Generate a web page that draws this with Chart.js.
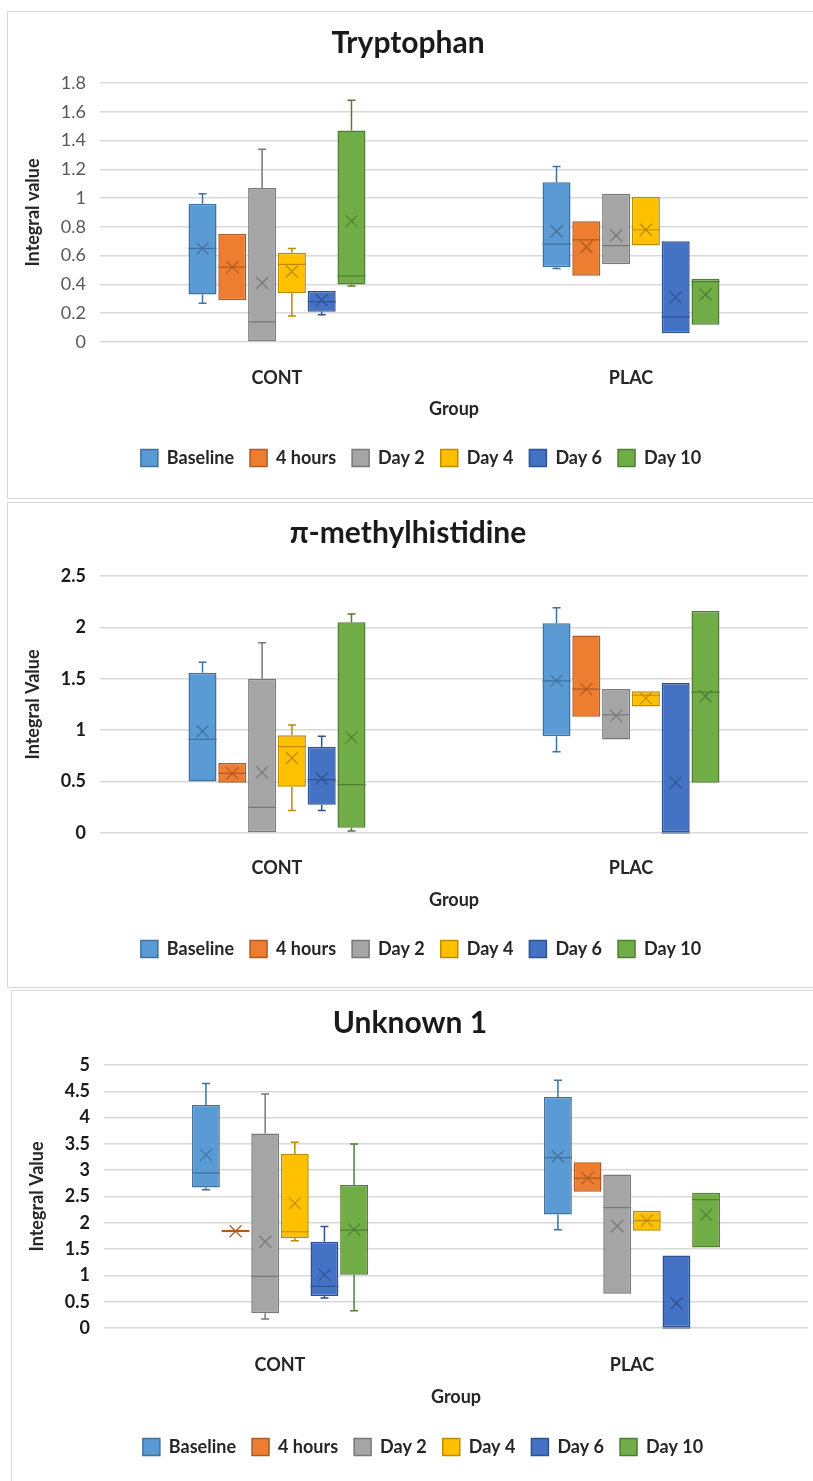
<!DOCTYPE html>
<html>
<head>
<meta charset="utf-8">
<title>Integral values by group</title>
<script src="https://cdn.jsdelivr.net/npm/chart.js@4.4.0/dist/chart.umd.min.js"></script>
<style>
  html, body { margin: 0; padding: 0; background: #fff; overflow: hidden; }
  .panel { position: absolute; border: 1px solid #d9d9d9; background: #fff; }
  .panel canvas { display: block; }
</style>
</head>
<body>
<div class="panel" style="left:7px;top:11px;width:820px;height:486px"><canvas id="trpChart" width="806" height="486"></canvas></div>
<div class="panel" style="left:7px;top:502px;width:820px;height:484px"><canvas id="mhChart" width="806" height="484"></canvas></div>
<div class="panel" style="left:11px;top:990px;width:820px;height:492px"><canvas id="unkChart" width="802" height="492"></canvas></div>
<script>
const groups = ['CONT', 'PLAC'];
const series = ['Baseline', '4 hours', 'Day 2', 'Day 4', 'Day 6', 'Day 10'];
const fills = ['#5B9BD5', '#ED7D31', '#A5A5A5', '#FFC000', '#4472C4', '#70AD47'];
const edges = ['#41719C', '#AE5A21', '#787878', '#BC8C00', '#2F528F', '#507E32'];

// one row per series, [CONT, PLAC]
const trpMin  = [[0.27, 0.51], [0.29, 0.46], [0, 0.54], [0.18, 0.67], [0.19, 0.06], [0.39, 0.12]];
const trpQ1   = [[0.33, 0.52], [0.29, 0.46], [0, 0.54], [0.34, 0.67], [0.21, 0.06], [0.40, 0.12]];
const trpMed  = [[0.65, 0.68], [0.52, 0.71], [0.14, 0.67], [0.54, 0.78], [0.28, 0.175], [0.46, 0.42]];
const trpQ3   = [[0.96, 1.11], [0.75, 0.84], [1.07, 1.03], [0.62, 1.01], [0.355, 0.70], [1.47, 0.44]];
const trpMax  = [[1.03, 1.22], [0.75, 0.84], [1.34, 1.03], [0.65, 1.01], [0.355, 0.70], [1.68, 0.44]];
const trpMean = [[0.65, 0.77], [0.52, 0.66], [0.41, 0.74], [0.49, 0.78], [0.29, 0.31], [0.84, 0.33]];

const mhMin  = [[0.50, 0.79], [0.49, 1.13], [0, 0.91], [0.22, 1.23], [0.22, 0], [0.02, 0.49]];
const mhQ1   = [[0.50, 0.94], [0.49, 1.13], [0, 0.91], [0.45, 1.23], [0.275, 0], [0.05, 0.49]];
const mhMed  = [[0.91, 1.48], [0.58, 1.40], [0.25, 1.15], [0.84, 1.34], [0.52, 0], [0.47, 1.37]];
const mhQ3   = [[1.56, 2.04], [0.68, 1.92], [1.50, 1.40], [0.95, 1.38], [0.84, 1.46], [2.05, 2.16]];
const mhMax  = [[1.66, 2.19], [0.68, 1.92], [1.85, 1.40], [1.05, 1.38], [0.94, 1.46], [2.13, 2.16]];
const mhMean = [[0.99, 1.48], [0.58, 1.40], [0.59, 1.14], [0.73, 1.31], [0.53, 0.49], [0.93, 1.33]];

const unkMin  = [[2.63, 1.87], [1.82, 2.59], [0.17, 0.65], [1.66, 1.85], [0.57, 0], [0.33, 1.53]];
const unkQ1   = [[2.67, 2.16], [1.82, 2.59], [0.28, 0.65], [1.71, 1.85], [0.61, 0], [1.01, 1.53]];
const unkMed  = [[2.95, 3.24], [1.84, 2.85], [0.98, 2.29], [1.83, 2.04], [0.79, 0], [1.86, 2.44]];
const unkQ3   = [[4.24, 4.39], [1.87, 3.15], [3.70, 2.92], [3.31, 2.23], [1.64, 1.38], [2.72, 2.57]];
const unkMax  = [[4.65, 4.71], [1.87, 3.15], [4.45, 2.92], [3.53, 2.23], [1.93, 1.38], [3.50, 2.57]];
const unkMean = [[3.29, 3.26], [1.84, 2.85], [1.64, 1.94], [2.37, 2.04], [1.01, 0.47], [1.87, 2.15]];

const FONT = 'Lato, "Open Sans", "Liberation Sans", sans-serif';

// whiskers, median line and mean cross on top of each floating bar
const boxDetails = {
  id: 'boxDetails',
  afterLayout(chart) {
    // nudge the legend row a little to the right
    chart.legend.left += 26;
  },
  afterDatasetsDraw(chart) {
    const { ctx } = chart;
    const yScale = chart.scales.y;
    chart.data.datasets.forEach((ds, i) => {
      chart.getDatasetMeta(i).data.forEach((bar, j) => {
        const x = bar.x;
        const half = bar.width / 2;
        const yMin = yScale.getPixelForValue(ds.lo[j]);
        const yQ1 = yScale.getPixelForValue(ds.data[j][0]);
        const yQ3 = yScale.getPixelForValue(ds.data[j][1]);
        const yMax = yScale.getPixelForValue(ds.hi[j]);
        const yMed = yScale.getPixelForValue(ds.med[j]);
        const yMean = yScale.getPixelForValue(ds.mean[j]);
        ctx.save();
        ctx.strokeStyle = ds.borderColor;
        ctx.lineWidth = 1.5;
        ctx.beginPath();
        if (yMax < yQ3 - 0.5) {
          ctx.moveTo(x, yQ3); ctx.lineTo(x, yMax);
          ctx.moveTo(x - 4, yMax); ctx.lineTo(x + 4, yMax);
        }
        if (yMin > yQ1 + 0.5) {
          ctx.moveTo(x, yQ1); ctx.lineTo(x, yMin);
          ctx.moveTo(x - 4, yMin); ctx.lineTo(x + 4, yMin);
        }
        ctx.stroke();
        ctx.lineWidth = 1.2;
        ctx.beginPath();
        ctx.moveTo(x - half, yMed); ctx.lineTo(x + half, yMed);
        ctx.moveTo(x - 6, yMean - 6); ctx.lineTo(x + 6, yMean + 6);
        ctx.moveTo(x - 6, yMean + 6); ctx.lineTo(x + 6, yMean - 6);
        ctx.stroke();
        ctx.restore();
      });
    });
  }
};

function buildChart(id, p) {
  const lh = 18 * 1.2;
  const titleLh = 30 * 1.2;
  const L = p.layout;
  const legendTop = L.legendY - 25;          // padding 16 + half item height 9
  const legendBottom = legendTop + 44;
  const canvas = document.getElementById(id);

  const datasets = series.map((name, i) => ({
    label: name,
    data: groups.map((g, j) => [p.q1[i][j], p.q3[i][j]]),
    lo: p.min[i],
    hi: p.max[i],
    med: p.med[i],
    mean: p.mean[i],
    backgroundColor: fills[i],
    borderColor: edges[i],
    borderWidth: 1.5,
    borderSkipped: false,
    barPercentage: 0.94,
    categoryPercentage: 0.505
  }));

  return new Chart(canvas, {
    type: 'bar',
    data: { labels: groups, datasets },
    options: {
      responsive: false,
      animation: false,
      layout: { padding: { left: 0, top: 0, right: canvas.width - L.right, bottom: canvas.height - legendBottom } },
      plugins: {
        tooltip: { enabled: false },
        title: {
          display: true,
          text: p.title,
          color: '#1a1a1a',
          font: { family: FONT, size: 30, weight: 'bold' },
          padding: { top: L.titleY - titleLh / 2, bottom: L.top - L.titleY - titleLh / 2 }
        },
        legend: {
          position: 'bottom',
          labels: {
            boxWidth: 17,
            boxHeight: 17,
            padding: 16,
            color: '#262626',
            font: { family: FONT, size: 18, weight: 'bold' }
          }
        }
      },
      scales: {
        x: {
          grid: { display: false },
          border: { display: false },
          ticks: {
            padding: L.catY - L.bottom - lh / 2,
            color: '#262626',
            font: { family: FONT, size: 18, weight: 'bold' }
          },
          title: {
            display: true,
            text: 'Group',
            color: '#262626',
            font: { family: FONT, size: 18, weight: 'bold' },
            padding: { top: 0, bottom: legendTop - L.groupY - lh / 2 }
          },
          afterFit(scale) { scale.height = legendTop - L.bottom; }
        },
        y: {
          min: 0,
          max: p.yMax,
          border: { display: false },
          grid: { color: '#d9d9d9', lineWidth: 1.5, drawTicks: false },
          ticks: {
            stepSize: p.yStep,
            padding: 14,
            color: p.tickColor,
            font: { family: FONT, size: 18, weight: p.tickWeight },
            callback: v => String(Math.round(v * 100) / 100)
          },
          title: {
            display: true,
            text: p.yTitle,
            color: '#262626',
            font: { family: FONT, size: 18, weight: 'bold' },
            padding: { top: L.yTitleX - lh / 2, bottom: 0 }
          },
          afterFit(scale) { scale.width = L.left; }
        }
      }
    },
    plugins: [boxDetails]
  });
}

buildChart('trpChart', {
  title: 'Tryptophan', yTitle: 'Integral value', yMax: 1.8, yStep: 0.2,
  tickColor: '#595959', tickWeight: 'normal',
  min: trpMin, q1: trpQ1, med: trpMed, q3: trpQ3, max: trpMax, mean: trpMean,
  layout: { left: 92, top: 71, right: 800, bottom: 330, titleY: 31, catY: 358, groupY: 397, legendY: 446, yTitleX: 25 }
});

buildChart('mhChart', {
  title: 'π-methylhistidine', yTitle: 'Integral Value', yMax: 2.5, yStep: 0.5,
  tickColor: '#1a1a1a', tickWeight: 'bold',
  min: mhMin, q1: mhQ1, med: mhMed, q3: mhQ3, max: mhMax, mean: mhMean,
  layout: { left: 92, top: 73, right: 800, bottom: 330, titleY: 30, catY: 357, groupY: 397, legendY: 446, yTitleX: 25 }
});

buildChart('unkChart', {
  title: 'Unknown 1', yTitle: 'Integral Value', yMax: 5, yStep: 0.5,
  tickColor: '#1a1a1a', tickWeight: 'bold',
  min: unkMin, q1: unkQ1, med: unkMed, q3: unkQ3, max: unkMax, mean: unkMean,
  layout: { left: 92, top: 74, right: 796, bottom: 337, titleY: 32, catY: 366, groupY: 406, legendY: 456, yTitleX: 25 }
});
</script>
</body>
</html>
